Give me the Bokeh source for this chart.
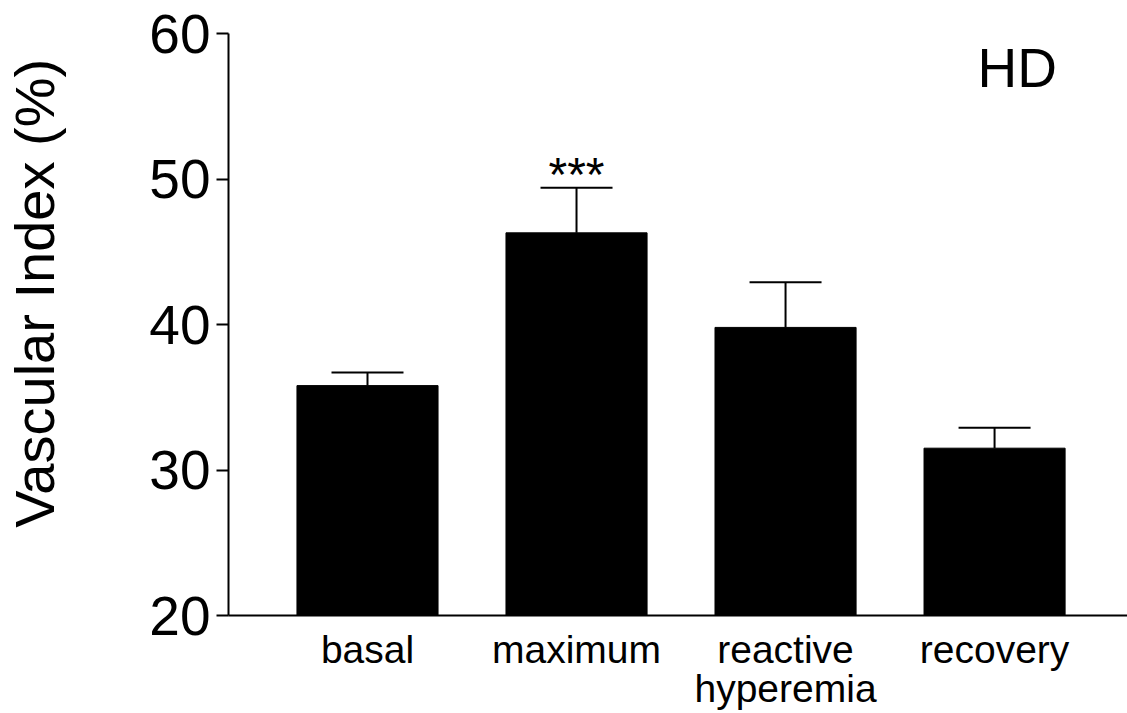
from bokeh.plotting import figure
from bokeh.models import ColumnDataSource, Range1d, FixedTicker, Whisker, TeeHead, Label
from bokeh.core.properties import value
from bokeh.embed import file_html
from bokeh.resources import INLINE

categories = ["basal", "maximum", "reactive\nhyperemia", "recovery"]
means = [35.8, 46.3, 39.8, 31.5]
sems = [0.9, 3.1, 3.1, 1.4]
y_ticks = [20, 30, 40, 50, 60]
significance = ["", "***", "", ""]
panel_label = "HD"
y_title = "Vascular Index (%)"

FONT = "Liberation Sans"

xs = list(range(len(categories)))
src = ColumnDataSource(data=dict(
    x=xs,
    mean=means,
    upper=[m + s for m, s in zip(means, sems)],
    sig=significance,
))

p = figure(width=1127, height=713, output_backend="svg", toolbar_location=None,
           x_range=Range1d(-0.665, 3.636), y_range=Range1d(20, 60),
           min_border_left=228, min_border_right=0, min_border_top=33, min_border_bottom=98)
p.outline_line_color = None
p.xgrid.visible = False
p.ygrid.visible = False
p.background_fill_color = "white"
p.border_fill_color = "white"

p.vbar(x="x", top="mean", bottom=20, width=0.675, source=src,
       fill_color="black", line_color="black", line_width=1)

w = Whisker(base="x", lower="mean", upper="upper", source=src, dimension="height",
            line_color="black", line_width=2,
            upper_head=TeeHead(size=72, line_color="black", line_width=2),
            lower_head=None)
p.add_layout(w)

p.text(x="x", y="upper", text="sig", source=src, text_align="center",
       text_baseline="alphabetic", y_offset=-13, text_font=value(FONT),
       text_font_size="48px", text_color="black")

# y axis
p.yaxis.ticker = FixedTicker(ticks=y_ticks)
p.yaxis.minor_tick_line_color = None
p.yaxis.major_tick_in = 0
p.yaxis.major_tick_out = 12
p.yaxis.major_tick_line_width = 2
p.yaxis.axis_line_width = 2
p.yaxis.major_label_standoff = 6
p.yaxis.major_label_text_font = FONT
p.yaxis.major_label_text_font_size = "55px"
p.yaxis.major_label_text_color = "black"
# leading no-break spaces lift the rotated title to its place in the reference
p.yaxis.axis_label = "\u00a0" * 4 + y_title
p.yaxis.axis_label_text_font = FONT
p.yaxis.axis_label_text_font_size = "56px"
p.yaxis.axis_label_text_font_style = "normal"
p.yaxis.axis_label_text_color = "black"
p.yaxis.axis_label_standoff = 80

# x axis
p.xaxis.ticker = FixedTicker(ticks=xs)
p.xaxis.major_label_overrides = {i: c for i, c in zip(xs, categories)}
p.xaxis.minor_tick_line_color = None
p.xaxis.major_tick_line_color = None
p.xaxis.major_tick_in = 0
p.xaxis.major_tick_out = 0
p.xaxis.axis_line_width = 2
p.xaxis.major_label_standoff = 12
p.xaxis.major_label_text_font = FONT
p.xaxis.major_label_text_font_size = "39px"
p.xaxis.major_label_text_line_height = 0.92
p.xaxis.major_label_text_color = "black"

p.add_layout(Label(x=749, y=548, x_units="screen", y_units="screen", text=panel_label,
                   text_font=FONT, text_font_size="55px", text_color="black",
                   text_baseline="alphabetic"))

open("out.html", "w").write(file_html(p, INLINE))
